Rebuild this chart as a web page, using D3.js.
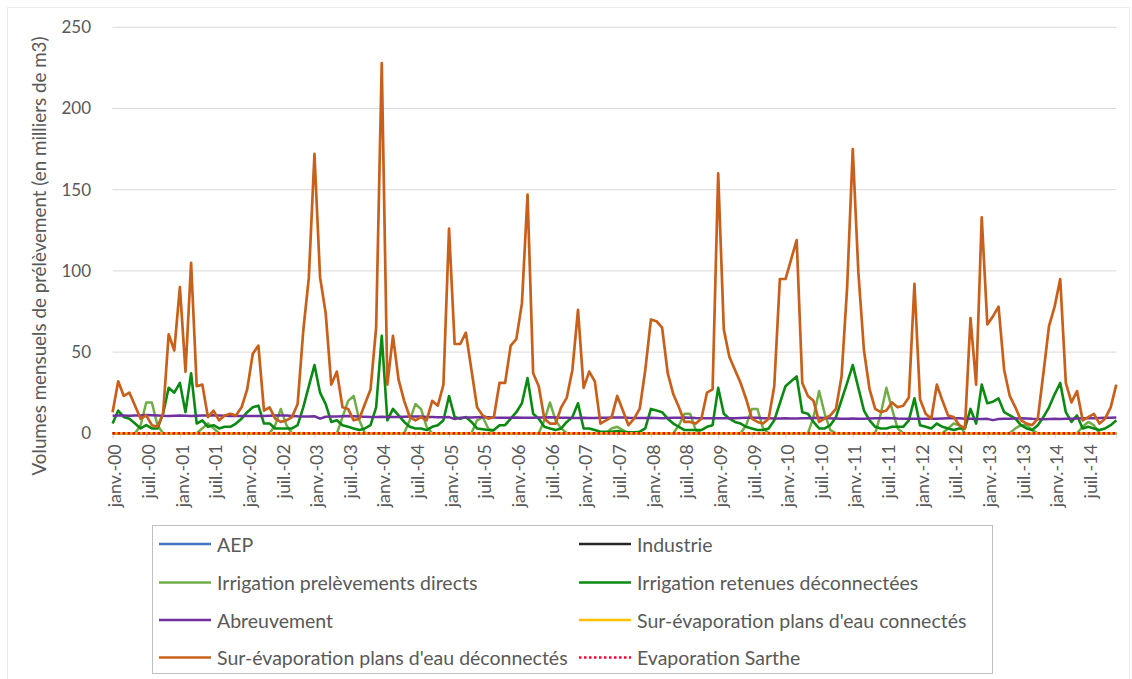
<!DOCTYPE html>
<html><head><meta charset="utf-8">
<script src="https://cdn.jsdelivr.net/npm/d3@7"></script>
<style>
body{margin:0;background:#fff}
svg text{font-family:Lato,"Open Sans",sans-serif;fill:#595959}
</style></head>
<body><svg id="chart" width="1132" height="679"></svg>
<script>
// ---------- DATA ----------
const tickLabels = ["janv.-00","juil.-00","janv.-01","juil.-01","janv.-02","juil.-02","janv.-03","juil.-03",
  "janv.-04","juil.-04","janv.-05","juil.-05","janv.-06","juil.-06","janv.-07","juil.-07","janv.-08","juil.-08",
  "janv.-09","juil.-09","janv.-10","juil.-10","janv.-11","juil.-11","janv.-12","juil.-12","janv.-13","juil.-13",
  "janv.-14","juil.-14"];
const yTicks = [0,50,100,150,200,250];

// monthly values Jan 2000 .. Dec 2014 (one row per year)
const surEvapDeconnectes = [
  13,32,23,25,17,9,11,5,4,12,61,51,
  90,38,105,29,30,10,14,8,11,12,11,16,
  27,49,54,14,16,9,7,8,10,18,63,96,
  172,96,74,30,38,16,15,8,9,18,27,65,
  228,30,60,33,20,10,8,10,8,20,17,30,
  126,55,55,62,39,16,11,9,10,31,31,54,
  58,80,147,37,29,9,6,6,16,22,39,76,
  28,38,32,6,8,10,23,14,5,9,15,39,
  70,69,65,37,24,16,7,7,6,9,25,27,
  160,64,47,39,31,21,9,7,6,9,29,95,
  95,107,119,31,23,20,7,9,11,15,35,90,
  175,99,51,27,15,13,14,19,16,17,22,92,
  21,12,9,30,20,11,10,5,3,71,30,133,
  67,72,78,39,23,16,8,6,5,9,37,66,
  78,95,31,19,26,8,10,12,6,9,16,30
];
const irrigRetenues = [
  6,14,10,9,6,3,5,3,3,12,28,25,
  31,13,37,6,8,4,5,3,4,4,6,9,
  13,16,17,6,6,3,3,3,3,5,16,29,
  42,25,18,7,8,5,4,3,2,3,5,16,
  60,8,15,11,7,4,3,3,2,4,5,8,
  23,10,9,10,7,3,2.5,2,2,5,5,9,
  13,18.5,34,12,9,4,3,2,3,7,10,18.5,
  3,3,2,1,1,1,1.4,1,0.6,0.6,1,3,
  15,14,13,9,6,4,2,2,2,2,4,5,
  28,12,9,7,6,4,3,2,2,3,8,18.5,
  29,32,35,13,12,7,3,3,5,10,20.5,31,
  42,28,14,8,4,3,3,4,4,4,8,21.5,
  5,4,3,6,4,3,2,3,3,15,6,30,
  18.5,19.5,21.5,13,11,9,5,3,2,5,10,16,
  24,31,13,7,11,3,4,3,2,3,5,8
];
const irrigDirects = [
  0,0,0,0,0,5,19,19,5,0,0,0,
  0,0,0,0,3,6,3,0,0,0,0,0,
  0,0,0,0,0,5,15,5,0,0,0,0,
  0,0,0,0,0,10,20,23,8,0,0,0,
  0,0,0,0,0,8,18,15,4,0,0,0,
  0,0,0,0,0,8,10,3,0,0,0,0,
  0,0,0,0,0,8,19,8,3,0,0,0,
  0,0,0,0,0,3,4,2,0,0,0,0,
  0,0,0,0,0,5,12,12,2,0,0,0,
  0,0,0,0,0,5,15,15,3,0,0,0,
  0,0,0,0,0,10,26,12,2,0,0,0,
  0,0,0,0,0,12,28,15,3,0,0,0,
  0,0,0,0,0,3,6,5,0,0,0,0,
  0,0,0,0,0,3,5,5,2,0,0,0,
  0,0,0,0,0,4,7,5,0,0,0,0
];
const abreuvement = [
  10.8,11.0,10.9,10.8,10.9,11.0,11.2,11.1,11.0,10.8,10.7,10.8,
  10.9,10.8,10.7,10.8,10.9,11.0,11.1,11.0,10.8,10.7,10.6,10.6,
  10.7,10.6,10.6,10.7,10.8,10.9,11.0,10.9,10.7,10.5,10.4,10.4,
  10.5,9.0,10.2,10.3,10.4,10.5,10.6,10.5,10.3,10.2,10.1,10.1,
  10.2,10.1,10.0,10.1,10.2,10.3,10.4,10.3,10.1,10.0,9.9,9.9,
  10.0,8.8,9.6,9.7,9.8,9.9,10.0,9.9,9.7,9.6,9.6,9.6,
  9.7,9.6,9.5,9.6,9.7,9.8,9.9,9.8,9.6,9.5,9.4,9.4,
  9.5,9.4,9.4,9.5,9.6,9.7,9.8,9.7,9.5,9.4,9.4,9.4,
  9.5,9.4,9.3,9.4,9.5,9.6,9.7,9.6,9.4,9.3,9.2,9.2,
  9.3,9.2,9.2,9.3,9.4,9.5,9.6,9.5,9.3,9.2,9.1,9.1,
  9.2,9.1,9.1,9.2,9.3,9.4,9.5,9.4,9.2,9.1,9.0,9.0,
  9.1,9.0,9.0,9.1,9.2,9.3,9.4,9.3,9.1,9.0,8.9,8.9,
  9.0,8.9,8.9,9.0,9.1,9.2,9.3,9.2,9.0,8.9,8.8,8.8,
  8.9,8.1,8.8,8.9,9.0,9.1,9.2,9.1,8.9,8.8,8.7,8.8,
  8.9,8.8,8.9,9.0,9.1,9.2,9.3,9.3,9.4,9.5,9.6,9.7
];
// series that stay at zero over the whole period
const zeroSeries = [
  0,0,0,0,0,0,0,0,0,0,0,0, 0,0,0,0,0,0,0,0,0,0,0,0, 0,0,0,0,0,0,0,0,0,0,0,0,
  0,0,0,0,0,0,0,0,0,0,0,0, 0,0,0,0,0,0,0,0,0,0,0,0, 0,0,0,0,0,0,0,0,0,0,0,0,
  0,0,0,0,0,0,0,0,0,0,0,0, 0,0,0,0,0,0,0,0,0,0,0,0, 0,0,0,0,0,0,0,0,0,0,0,0,
  0,0,0,0,0,0,0,0,0,0,0,0, 0,0,0,0,0,0,0,0,0,0,0,0, 0,0,0,0,0,0,0,0,0,0,0,0,
  0,0,0,0,0,0,0,0,0,0,0,0, 0,0,0,0,0,0,0,0,0,0,0,0, 0,0,0,0,0,0,0,0,0,0,0,0
];
const aep = zeroSeries, industrie = zeroSeries, surEvapConnectes = zeroSeries, evapSarthe = zeroSeries;

const seriesNames = ["AEP","Industrie","Irrigation prelèvements directs","Irrigation retenues déconnectées",
  "Abreuvement","Sur-évaporation plans d'eau connectés","Sur-évaporation plans d'eau déconnectés","Evaporation Sarthe"];
const seriesValues = [aep, industrie, irrigDirects, irrigRetenues, abreuvement, surEvapConnectes, surEvapDeconnectes, evapSarthe];
const seriesColors = ["#4472C4","#262626","#70AD47","#0A8A12","#7030A0","#FFC000","#C8601C","#FF0000"];

// ---------- DRAW ----------
const svg = d3.select("#chart");
const x = d3.scaleLinear().domain([0, 179]).range([112.6, 1116.3]);
const y = d3.scaleLinear().domain([0, 250]).range([433.3, 27.3]);

// faint outer frame
svg.append("rect").attr("x", 7.5).attr("y", 7.5).attr("width", 1122).attr("height", 690)
  .attr("fill", "none").attr("stroke", "#ececec");

// gridlines
svg.append("g").selectAll("line").data(yTicks.filter(d => d > 0)).join("line")
  .attr("x1", 112.6).attr("x2", 1116.5)
  .attr("y1", d => y(d)).attr("y2", d => y(d))
  .attr("stroke", "#d9d9d9").attr("stroke-width", 1);

// y axis labels
const yAxis = d3.axisLeft(y).tickValues(yTicks).tickSize(0).tickPadding(0);
const gy = svg.append("g").attr("transform", "translate(91,0)").call(yAxis);
gy.select(".domain").remove();
gy.selectAll("text").attr("font-size", 17).style("fill", "#595959").style("font-family", "Lato");

// x axis
const tickMonths = tickLabels.map((d, i) => i * 6);
const xAxis = d3.axisBottom(x).tickValues(tickMonths).tickSize(5).tickFormat((d, i) => tickLabels[i]);
const gx = svg.append("g").attr("transform", `translate(0,${y(0)})`).call(xAxis);
gx.select(".domain").attr("stroke", "#d9d9d9");
gx.selectAll(".tick line").attr("stroke", "#d9d9d9");
gx.selectAll(".tick text")
  .attr("transform", "rotate(-90)")
  .attr("text-anchor", "end")
  .attr("x", -11).attr("y", 2).attr("dy", "0.35em")
  .attr("font-size", 17.8).style("fill", "#595959").style("font-family", "Lato");

// y title
svg.append("text")
  .attr("transform", `translate(38,${256}) rotate(-90)`)
  .attr("text-anchor", "middle").attr("dominant-baseline", "central")
  .attr("font-size", 18.8)
  .text("Volumes mensuels de prélèvement (en milliers de m3)");

// lines
const line = d3.line().x((d, i) => x(i)).y(d => y(d));
const widths = [2.5, 2.5, 2.5, 2.6, 2.5, 2.5, 2.7, 2.5];
seriesValues.forEach((vals, k) => {
  const p = svg.append("path").datum(vals)
    .attr("fill", "none")
    .attr("stroke", seriesColors[k])
    .attr("stroke-width", widths[k])
    .attr("stroke-linejoin", "round")
    .attr("d", line);
  if (k === 7) p.attr("stroke-dasharray", "2.5,2.5");
});

// legend
const lg = svg.append("g");
lg.append("rect").attr("x", 152.5).attr("y", 525.5).attr("width", 840).attr("height", 148)
  .attr("fill", "#fff").attr("stroke", "#bfbfbf").attr("stroke-width", 1);
const colX = [159, 579];
const rowY = [544, 582.5, 620, 657.5];
seriesNames.forEach((name, k) => {
  const cx = colX[k % 2], cy = rowY[Math.floor(k / 2)];
  const l = lg.append("line").attr("x1", cx).attr("x2", cx + 52).attr("y1", cy).attr("y2", cy)
    .attr("stroke", seriesColors[k]).attr("stroke-width", 2.5);
  if (k === 7) l.attr("stroke-dasharray", "2.5,2.5").attr("stroke", "#FF0033");
  lg.append("text").attr("x", cx + 58).attr("y", cy).attr("dominant-baseline", "central")
    .attr("font-size", 19.5).text(name);
});
</script>
</body></html>
